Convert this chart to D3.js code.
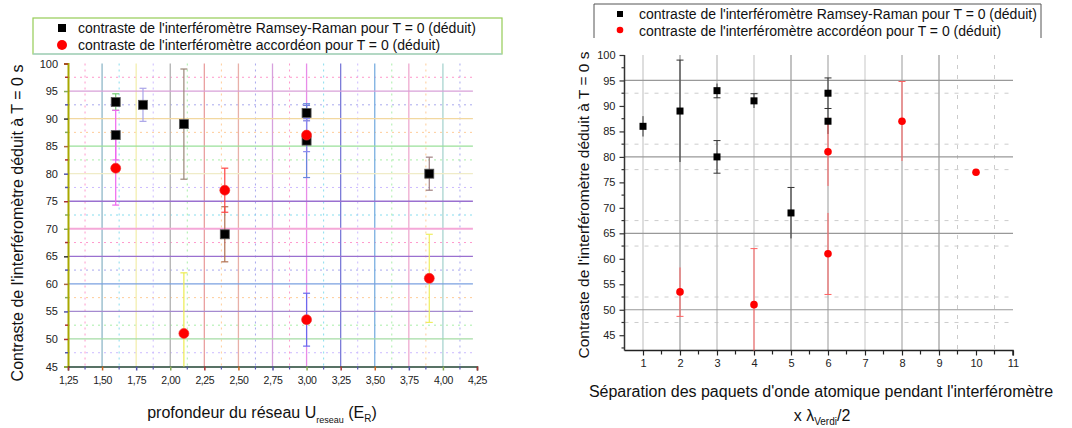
<!DOCTYPE html>
<html>
<head>
<meta charset="utf-8">
<script src="https://cdn.jsdelivr.net/npm/d3@7"></script>
<style>
  body { margin: 0; background: #fff; }
  text { font-family: "Liberation Sans", Arial, sans-serif; }
</style>
</head>
<body>
<svg width="1072" height="428"></svg>
<script>
// left panel: contrast vs lattice depth
const depthRR = [1.6, 1.6, 1.8, 2.1, 2.4, 3.0, 3.0, 3.9];
const contrastRR = [93, 87, 92.5, 89, 69, 91, 86, 80];
const errRR = [1.5, 4.5, 3, 10, 5, 1.4, 6.7, 3];
const depthAcc = [1.6, 2.1, 2.4, 3.0, 3.0, 3.9];
const contrastAcc = [81, 51, 77, 87, 53.5, 61];
const errAcc = [6.7, 11, 4, 3, 4.8, 8];

// right panel: contrast vs separation
const sepRR = [1, 2, 3, 3, 4, 5, 6, 6];
const sepContrastRR = [86, 89, 93, 80, 91, 69, 92.5, 87];
const sepErrRR = [2, 10, 1.4, 3.2, 1.4, 5, 3, 2.5];
const sepAcc = [2, 4, 6, 6, 8, 10];
const sepContrastAcc = [53.5, 51, 81, 61, 87, 77];
const sepErrAcc = [4.8, 11, 6.7, 8, 7.8, 0];

const leftXTicks = [1.25, 1.5, 1.75, 2, 2.25, 2.5, 2.75, 3, 3.25, 3.5, 3.75, 4, 4.25];
const yTicks = [45, 50, 55, 60, 65, 70, 75, 80, 85, 90, 95, 100];
const rightXTicks = [1, 2, 3, 4, 5, 6, 7, 8, 9, 10, 11];
const legendRR = "contraste de l'interféromètre Ramsey-Raman pour T = 0 (déduit)";
const legendAcc = "contraste de l'interféromètre accordéon pour T = 0 (déduit)";
const yTitle = "Contraste de l'interféromètre déduit à T = 0 s";

// which caps are drawn on the right panel (as in the original export)
const capsRR = ['none', 'top', 'bottom', 'both', 'top', 'top', 'both', 'none'];
const capsAcc = ['bottom', 'top', 'none', 'bottom', 'top', 'none'];

const svg = d3.select('svg');
const fmt = d => d3.format('.2f')(d).replace('.', ',');

// ---------- left panel ----------
const xL = d3.scaleLinear().domain([1.25, 4.25]).range([68, 477]);
const yL = d3.scaleLinear().domain([45, 100]).range([366.5, 63.5]);
const gL = svg.append('g');

// colourful grid, like the original export
const vCols = ['#ffffff', '#8fb8c8', '#f3eeb0', '#b0b0b0', '#eaa0a0', '#e8b0a8', '#d7a0dd', '#e88ce8', '#7a7ad8', '#7aaee0', '#eeaad0', '#a8d4d0', '#ffffff'];
const hCols = {45: '#fff', 50: '#a5dca5', 55: '#a58ad0', 60: '#7aa0e0', 65: '#9a70d0', 70: '#f5a8d8',
  75: '#9a70d0', 80: '#f0ecc8', 85: '#9ae09a', 90: '#f2d8a0', 95: '#d8a0d8', 100: '#fff'};
const dotCols = ['#f9c', '#8de', '#cbf', '#aea', '#fc9', '#aae'];

d3.range(1.375, 4.25, 0.25).forEach((v, i) => {
  gL.append('line').attr('x1', xL(v)).attr('x2', xL(v)).attr('y1', yL(100)).attr('y2', yL(45))
    .attr('stroke', dotCols[i % dotCols.length]).attr('stroke-dasharray', '2,4').attr('stroke-width', 1);
});
d3.range(47.5, 100, 5).forEach((v, i) => {
  gL.append('line').attr('x1', xL(1.25)).attr('x2', xL(4.22)).attr('y1', yL(v)).attr('y2', yL(v))
    .attr('stroke', dotCols[(i + 2) % dotCols.length]).attr('stroke-dasharray', '2,4').attr('stroke-width', 1);
});
leftXTicks.forEach((v, i) => {
  if (i === 0 || i === leftXTicks.length - 1) return;
  gL.append('line').attr('x1', xL(v)).attr('x2', xL(v)).attr('y1', yL(100)).attr('y2', yL(45))
    .attr('stroke', vCols[i]).attr('stroke-width', 1.3);
});
yTicks.forEach(v => {
  if (v === 45 || v === 100) return;
  gL.append('line').attr('x1', xL(1.25)).attr('x2', xL(4.22)).attr('y1', yL(v)).attr('y2', yL(v))
    .attr('stroke', hCols[v]).attr('stroke-width', v === 70 ? 2.2 : 1.3);
});

// axes
const axL = gL.append('g').attr('transform', 'translate(' + xL(1.25) + ',0)')
  .call(d3.axisLeft(yL).tickValues(yTicks).tickSize(4).tickPadding(6));
axL.select('.domain').attr('stroke', '#a8a800').attr('stroke-width', 2);
axL.selectAll('.tick line').attr('stroke', (d, i) => ['#8a5', '#a33', '#55a', '#a64', '#333'][i % 5]).attr('stroke-width', 1.5);
axL.selectAll('.tick text').attr('font-size', 11).attr('fill', '#222').attr('font-family', 'Liberation Sans');
d3.range(47.5, 100, 5).forEach((v, i) => {
  gL.append('line').attr('x1', xL(1.25) - 3).attr('x2', xL(1.25)).attr('y1', yL(v)).attr('y2', yL(v))
    .attr('stroke', ['#55a', '#a33', '#8a5'][i % 3]).attr('stroke-width', 1.5);
});
const axLb = gL.append('g').attr('transform', 'translate(0,' + yL(45) + ')')
  .call(d3.axisBottom(xL).tickValues(leftXTicks).tickFormat(fmt).tickSize(4).tickPadding(6));
axLb.select('.domain').attr('stroke', '#243').attr('stroke-width', 1.5);
axLb.selectAll('.tick line').attr('stroke', (d, i) => ['#a33', '#c62', '#55a', '#8a5'][i % 4]).attr('stroke-width', 1.5);
axLb.selectAll('.tick text').attr('font-size', 10.5).attr('fill', '#222').attr('letter-spacing', -0.4).attr('font-family', 'Liberation Sans');
d3.range(1.375, 4.25, 0.25).forEach(v => {
  gL.append('line').attr('x1', xL(v)).attr('x2', xL(v)).attr('y1', yL(45)).attr('y2', yL(45) + 3)
    .attr('stroke', '#55a').attr('stroke-width', 1.2);
});

// error bars and markers
const errBars = (g, xs, ys, es, sx, sy, cols, cap, clip, caps, w) => {
  xs.forEach((x, i) => {
    if (!es[i]) return;
    const lo = ys[i] - es[i], hi = ys[i] + es[i];
    const col = cols[i % cols.length];
    g.append('line').attr('x1', sx(x)).attr('x2', sx(x)).attr('y1', sy(clip(lo))).attr('y2', sy(clip(hi)))
      .attr('stroke', col).attr('stroke-width', w);
    const which = caps ? caps[i] : 'both';
    [['bottom', lo], ['top', hi]].forEach(([side, v]) => {
      if (v !== clip(v)) return;
      if (which !== 'both' && which !== side) return;
      g.append('line').attr('x1', sx(x) - cap).attr('x2', sx(x) + cap).attr('y1', sy(v)).attr('y2', sy(v))
        .attr('stroke', col).attr('stroke-width', w);
    });
  });
};
const clipL = v => Math.max(45, Math.min(100, v));
errBars(gL, depthRR, contrastRR, errRR, xL, yL, ['#7c7', '#ee66ee', '#aaa4e8', '#9a8878', '#b07050', '#7777dd', '#6688dd', '#a08080'], 3.5, clipL, null, 1.2);
errBars(gL, depthAcc, contrastAcc, errAcc, xL, yL, ['#ee66ee', '#ecec50', '#ff4444', '#8888ee', '#6a6aee', '#eeee60'], 3.5, clipL, null, 1.2);

gL.selectAll('rect.rr').data(depthRR).enter().append('rect')
  .attr('x', (d, i) => xL(d) - 4.5).attr('y', (d, i) => yL(contrastRR[i]) - 4.5)
  .attr('width', 9).attr('height', 9).attr('fill', '#000').attr('stroke', '#555').attr('stroke-width', 0.8);
gL.selectAll('circle.acc').data(depthAcc).enter().append('circle')
  .attr('cx', d => xL(d)).attr('cy', (d, i) => yL(contrastAcc[i])).attr('r', 5)
  .attr('fill', '#ff0000').attr('stroke', '#e33').attr('stroke-width', 0.6);

// legend (left)
gL.append('rect').attr('x', 33).attr('y', 18).attr('width', 469).attr('height', 36)
  .attr('fill', '#fff').attr('stroke', '#95cc55').attr('stroke-width', 1.2);
gL.append('line').attr('x1', 33).attr('x2', 502).attr('y1', 54).attr('y2', 54).attr('stroke', '#a8d0f0').attr('stroke-width', 1.2);
gL.append('rect').attr('x', 58).attr('y', 24).attr('width', 8).attr('height', 8).attr('fill', '#000');
gL.append('circle').attr('cx', 62).attr('cy', 45).attr('r', 5).attr('fill', '#ff0000');
gL.append('text').attr('x', 78).attr('y', 33).attr('font-size', 14).attr('fill', '#111').text(legendRR);
gL.append('text').attr('x', 78).attr('y', 50).attr('font-size', 14).attr('fill', '#111').text(legendAcc);

// titles (left)
gL.append('text').attr('transform', 'translate(23,223) rotate(-90)').attr('text-anchor', 'middle')
  .attr('font-size', 16).attr('fill', '#111').text(yTitle);
const tL = gL.append('text').attr('x', 262).attr('y', 418).attr('text-anchor', 'middle')
  .attr('font-size', 16).attr('fill', '#111');
tL.append('tspan').text('profondeur du réseau U');
tL.append('tspan').attr('font-size', 9).attr('dy', 5).text('reseau');
tL.append('tspan').attr('dy', -5).text(' (E');
tL.append('tspan').attr('font-size', 10).attr('dy', 4).text('R');
tL.append('tspan').attr('dy', -4).text(')');

// ---------- right panel ----------
const xR = d3.scaleLinear().domain([0.5, 11]).range([624.5, 1013]);
const yR = d3.scaleLinear().domain([42, 100]).range([350.5, 55]);
const gR = svg.append('g');

[47.5, 52.5, 62.5, 67.5, 77.5, 82.5, 92.5].forEach(v => {
  gR.append('line').attr('x1', xR(0.5)).attr('x2', xR(11)).attr('y1', yR(v)).attr('y2', yR(v))
    .attr('stroke', '#ccc').attr('stroke-dasharray', '4,6').attr('stroke-width', 1);
});
[9.5, 10.5].forEach(v => {
  gR.append('line').attr('x1', xR(v)).attr('x2', xR(v)).attr('y1', yR(100)).attr('y2', yR(42))
    .attr('stroke', '#ccc').attr('stroke-dasharray', '4,6').attr('stroke-width', 1);
});
const rVCols = ['#c8c8c8', '#999', '#bbb', '#c8c8c8', '#999', '#aaa', '#d0d0d0', '#aaa', '#999'];
rightXTicks.slice(0, 9).forEach((v, i) => {
  gR.append('line').attr('x1', xR(v)).attr('x2', xR(v)).attr('y1', yR(100)).attr('y2', yR(42))
    .attr('stroke', rVCols[i]).attr('stroke-width', 1.2);
});
[50, 65, 80, 95].forEach(v => {
  gR.append('line').attr('x1', xR(0.5)).attr('x2', xR(11)).attr('y1', yR(v)).attr('y2', yR(v))
    .attr('stroke', '#999').attr('stroke-width', 1.2);
});

const axR = gR.append('g').attr('transform', 'translate(' + xR(0.5) + ',0)')
  .call(d3.axisLeft(yR).tickValues(yTicks).tickSize(5).tickPadding(4));
axR.select('.domain').attr('d', 'M0,' + yR(100) + 'V' + yR(42)).attr('stroke', '#333').attr('stroke-width', 1.5);
axR.selectAll('.tick line').attr('stroke', '#333').attr('stroke-width', 1.2);
axR.selectAll('.tick text').attr('font-size', 11).attr('fill', '#222').attr('font-family', 'Liberation Sans');
d3.range(42.5, 100, 5).forEach(v => {
  gR.append('line').attr('x1', xR(0.5) - 3).attr('x2', xR(0.5)).attr('y1', yR(v)).attr('y2', yR(v))
    .attr('stroke', '#333').attr('stroke-width', 1.2);
});
const axRb = gR.append('g').attr('transform', 'translate(0,' + yR(42) + ')')
  .call(d3.axisBottom(xR).tickValues(rightXTicks).tickSize(5).tickPadding(4));
axRb.select('.domain').attr('d', 'M' + xR(0.5) + ',0H' + xR(11) + 'V5').attr('stroke', '#222').attr('stroke-width', 1.5);
axRb.selectAll('.tick line').attr('stroke', '#222').attr('stroke-width', 1.2);
axRb.selectAll('.tick text').attr('font-size', 11).attr('fill', '#222').attr('font-family', 'Liberation Sans');
d3.range(1.5, 11, 1).forEach(v => {
  gR.append('line').attr('x1', xR(v)).attr('x2', xR(v)).attr('y1', yR(42)).attr('y2', yR(42) + 4)
    .attr('stroke', '#222').attr('stroke-width', 1.2);
});

const clipR = v => Math.max(42, Math.min(100, v));
errBars(gR, sepRR, sepContrastRR, sepErrRR, xR, yR, ['#333'], 3.5, clipR, capsRR, 1);
errBars(gR, sepAcc, sepContrastAcc, sepErrAcc, xR, yR, ['#ff6060'], 3.5, clipR, capsAcc, 1);
gR.selectAll('rect.rr').data(sepRR).enter().append('rect')
  .attr('x', d => xR(d) - 3.5).attr('y', (d, i) => yR(sepContrastRR[i]) - 3.5)
  .attr('width', 7).attr('height', 7).attr('fill', '#000');
gR.selectAll('circle.acc').data(sepAcc).enter().append('circle')
  .attr('cx', d => xR(d)).attr('cy', (d, i) => yR(sepContrastAcc[i])).attr('r', 3.8)
  .attr('fill', '#ff0000');

// legend (right)
gR.append('path').attr('d', 'M594,38V4H1041V38').attr('fill', 'none').attr('stroke', '#555').attr('stroke-width', 1);
gR.append('rect').attr('x', 617).attr('y', 11).attr('width', 6).attr('height', 6).attr('fill', '#000');
gR.append('circle').attr('cx', 620).attr('cy', 30).attr('r', 3.3).attr('fill', '#ff0000');
gR.append('text').attr('x', 639).attr('y', 19).attr('font-size', 14).attr('fill', '#111').text(legendRR);
gR.append('text').attr('x', 639).attr('y', 36).attr('font-size', 14).attr('fill', '#111').text(legendAcc);

gR.append('text').attr('transform', 'translate(589,205) rotate(-90)').attr('text-anchor', 'middle')
  .attr('font-size', 15.5).attr('fill', '#111').text(yTitle);
gR.append('text').attr('x', 821).attr('y', 397).attr('text-anchor', 'middle').attr('font-size', 16)
  .attr('fill', '#111').text("Séparation des paquets d'onde atomique pendant l'interféromètre");
const tR = gR.append('text').attr('x', 822).attr('y', 421).attr('text-anchor', 'middle')
  .attr('font-size', 16).attr('fill', '#111');
tR.append('tspan').text('x λ');
tR.append('tspan').attr('font-size', 10).attr('dy', 4).text('Verdi');
tR.append('tspan').attr('dy', -4).text('/2');
</script>
</body>
</html>
